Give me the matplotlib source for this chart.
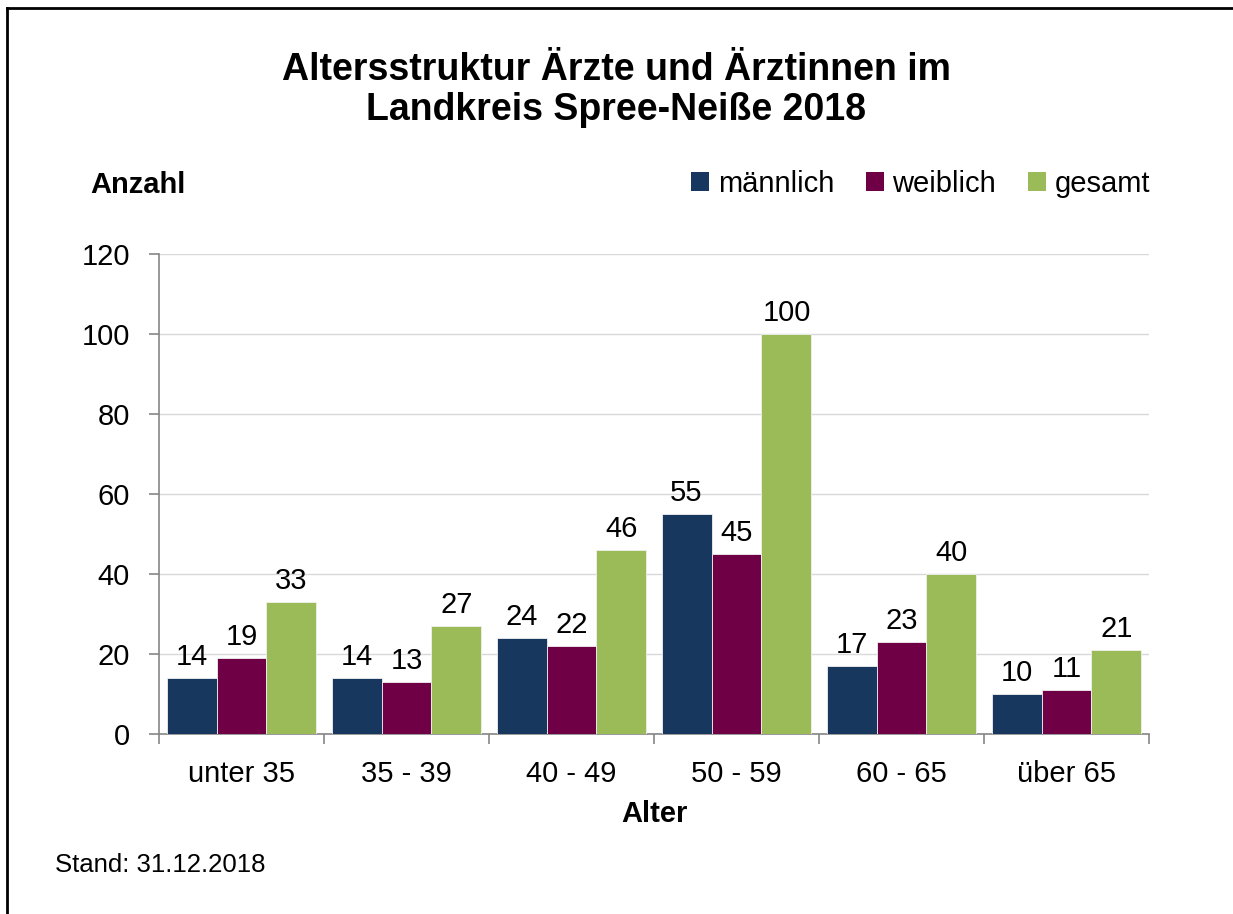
import matplotlib
matplotlib.use("Agg")
import matplotlib.pyplot as plt
import numpy as np
from matplotlib.lines import Line2D
from matplotlib.patches import Patch

categories = ["unter 35", "35 - 39", "40 - 49", "50 - 59", "60 - 65", "über 65"]
maennlich = [14, 14, 24, 55, 17, 10]
weiblich = [19, 13, 22, 45, 23, 11]
gesamt = [33, 27, 46, 100, 40, 21]
series_names = ["männlich", "weiblich", "gesamt"]
colors = ["#17375E", "#700046", "#9BBB59"]

plt.rcParams['font.family'] = ['Liberation Sans', 'DejaVu Sans']

fig = plt.figure(figsize=(12.33, 9.14), dpi=100)
ax = fig.add_axes([159/1233, 1-734/914, (1149-159)/1233, (734-254)/914])

FS = 21
x = np.arange(len(categories))
w = 0.303
for i, (vals, name, c) in enumerate(zip([maennlich, weiblich, gesamt], series_names, colors)):
    bars = ax.bar(x + (i-1)*w, vals, width=w, color=c, edgecolor='#f0f0f0', linewidth=0.6, label=name, zorder=3)
    for b, v in zip(bars, vals):
        ax.text(b.get_x()+b.get_width()/2, v + 1.8, str(v), ha='center', va='bottom', fontsize=FS, zorder=4)

ax.set_xlim(-0.5, len(categories)-0.5)
ax.set_ylim(0, 120)
ax.set_yticks(range(0, 121, 20))
ax.yaxis.grid(True, color='#d9d9d9', linewidth=1, zorder=0)
ax.set_axisbelow(True)
for s in ['top', 'right']:
    ax.spines[s].set_visible(False)
for s in ['left', 'bottom']:
    ax.spines[s].set_color('#868686')
    ax.spines[s].set_linewidth(1.2)
ax.set_xticks(np.arange(-0.5, len(categories)), minor=False)
ax.set_xticklabels([])
ax.set_xticks(x, minor=True)
ax.set_xticklabels(categories, minor=True, fontsize=FS)
ax.tick_params(axis='x', which='major', length=7, color='#868686', width=1.2, direction='out')
ax.tick_params(axis='x', which='minor', length=0, pad=19)
ax.tick_params(axis='y', length=7, color='#868686', width=1.2, labelsize=FS, pad=14)

ax.set_xlabel("Alter", fontsize=FS, fontweight='bold', labelpad=8)

fig.text(616/1233, 1-90/914, "Altersstruktur Ärzte und Ärztinnen im\nLandkreis Spree-Neiße 2018",
         ha='center', va='center', fontsize=27, fontweight='bold', linespacing=1.15)
fig.text(90/1233, 1-185/914, "Anzahl", ha='left', va='center', fontsize=FS, fontweight='bold')
fig.text(55/1233, 1-865/914, "Stand: 31.12.2018", ha='left', va='center', fontsize=18.5)

handles = [Patch(facecolor=c, edgecolor='none') for c in colors]
fig.legend(handles, series_names, loc='center right', bbox_to_anchor=(1150/1233, 1-184/914),
           ncol=3, frameon=False, fontsize=FS, handlelength=0.6, handleheight=0.6,
           handletextpad=0.3, columnspacing=1.1, borderaxespad=0, borderpad=0)

fig.add_artist(Line2D([7/1233, 7/1233], [0, 1-8/914], color='black', linewidth=2, transform=fig.transFigure))
fig.add_artist(Line2D([7/1233, 1], [1-8/914, 1-8/914], color='black', linewidth=2, transform=fig.transFigure))

fig.savefig("out.png", dpi=100)
